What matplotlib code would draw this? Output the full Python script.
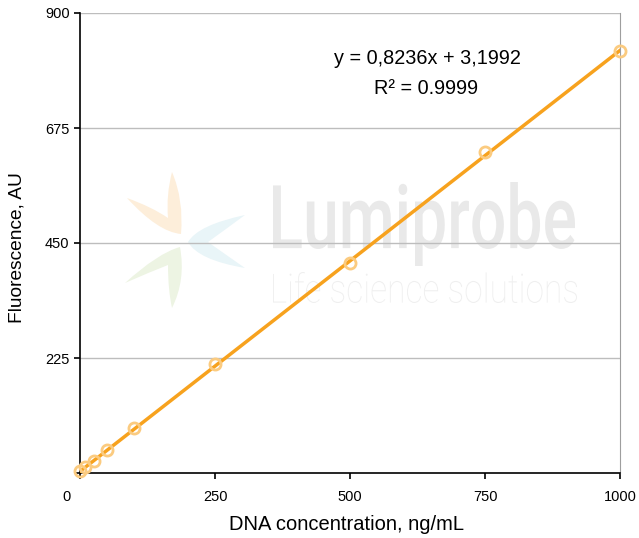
#Imports
import numpy as np
import matplotlib
matplotlib.use("Agg")
from matplotlib import pyplot as plt
from matplotlib.path import Path
from matplotlib.patches import PathPatch
from matplotlib.textpath import TextPath
from matplotlib.font_manager import FontProperties
import matplotlib.transforms as mtransforms

plt.rcParams['font.family'] = ['Liberation Sans', 'DejaVu Sans']

#data
conc = [0, 10, 25, 50, 100, 250, 500, 750, 1000]          # ng/mL
fluor = [3, 12, 24, 45, 88, 214, 411, 628, 825]           # AU
slope = 0.8236
intercept = 3.1992
x_ticks = [0, 250, 500, 750, 1000]
y_ticks = [0, 225, 450, 675, 900]
y_ticklabels = ['', '225', '450', '675', '900']

W, H = 639, 538
fig = plt.figure(figsize=(W / 100, H / 100), dpi=100)
ax = fig.add_axes([80 / W, 1 - 473 / H, 540 / W, 460 / H])

#watermark (logo) in figure pixels
def px(x, y):
    return (x / W, 1 - y / H)

petals = [
    ('#FDEEDA', [(172, 172), (184, 200), (181, 234), (158, 232), (127, 198),
                 (152, 207), (168, 218), (166, 195), (172, 172)]),
    ('#E9F5F8', [(245, 215), (198, 225), (188, 242), (198, 260), (245, 268),
                 (222, 252), (208, 242), (222, 232), (245, 215)]),
    ('#EDF4E3', [(125, 283), (158, 253), (180, 247), (186, 280), (172, 308),
                 (168, 290), (168, 265), (150, 272), (125, 283)]),
]
codes = [Path.MOVETO] + [Path.CURVE3] * 8
for col, pts in petals:
    p = Path([px(*q) for q in pts], codes)
    fig.add_artist(PathPatch(p, facecolor=col, edgecolor='none',
                             transform=fig.transFigure, zorder=0))

def logo_text(s, weight, box, col):
    # texto escalado para llenar una caja (x0, x1, y_top, y_bottom) en pixeles
    tp = TextPath((0, 0), s, size=100, prop=FontProperties(family='Roboto', weight=weight))
    ext = tp.get_extents()
    x0, x1, yt, yb = box
    sx = (x1 - x0) / ext.width
    sy = (yb - yt) / ext.height
    tr = (mtransforms.Affine2D().translate(-ext.x0, -ext.y0).scale(sx, sy)
          .translate(x0, H - yb))
    fig.add_artist(PathPatch(tr.transform_path(tp), facecolor=col, edgecolor='none',
                             transform=mtransforms.IdentityTransform(), zorder=0))

logo_text('Lumiprobe', 'medium', (273, 575, 182, 266), '#E9E9E9')
logo_text('Life science solutions', 'light', (273, 577, 272, 303), '#EFEFEF')

ax.patch.set_alpha(0)

#grafica
for v in y_ticks[1:]:
    ax.axhline(v, color='#BDBDBD', linewidth=1, zorder=1)

xl = np.array([conc[0], conc[-1]])
ax.plot(xl, slope * xl + intercept, color='#F7A21E', linewidth=2.5, zorder=3)
ax.plot(conc, fluor, linestyle='none', marker='o', markersize=8,
        markerfacecolor='none', markeredgecolor='#FBCB80', markeredgewidth=2,
        zorder=4, clip_on=False)

ax.set_xlim(0, 1000)
ax.set_ylim(0, 900)
ax.set_xticks(x_ticks)
ax.set_xticklabels([str(v) for v in x_ticks])
ax.set_yticks(y_ticks)
ax.set_yticklabels(y_ticklabels)
ax.tick_params(direction='out', length=4, width=1.2, labelsize=10.5,
               colors='black')
ax.tick_params(axis='x', pad=8)

lab0 = ax.get_xticklabels()[0]
lab0.set_ha('right')
lab0.set_transform(lab0.get_transform() + mtransforms.ScaledTranslation(
    -0.09, 0, fig.dpi_scale_trans))

ax.spines['right'].set_color('#9E9E9E')
ax.spines['top'].set_visible(False)
for s in ['left', 'bottom']:
    ax.spines[s].set_color('black')
    ax.spines[s].set_linewidth(1.2)

ax.text(427 / W, 1 - 59 / H, 'y = 0,8236x + 3,1992', transform=fig.transFigure,
        fontsize=14.3, ha='center', va='center', zorder=5)
ax.text(426 / W, 1 - 88 / H, 'R² = 0.9999', transform=fig.transFigure,
        fontsize=14.3, ha='center', va='center', zorder=5)

fig.text(17 / W, 1 - 248 / H, 'Fluorescence, AU', rotation=90, fontsize=13.8,
         ha='center', va='center')
fig.text(347 / W, 1 - 525 / H, 'DNA concentration, ng/mL', fontsize=14.5,
         ha='center', va='center')

plt.savefig('out.png', dpi=100)
